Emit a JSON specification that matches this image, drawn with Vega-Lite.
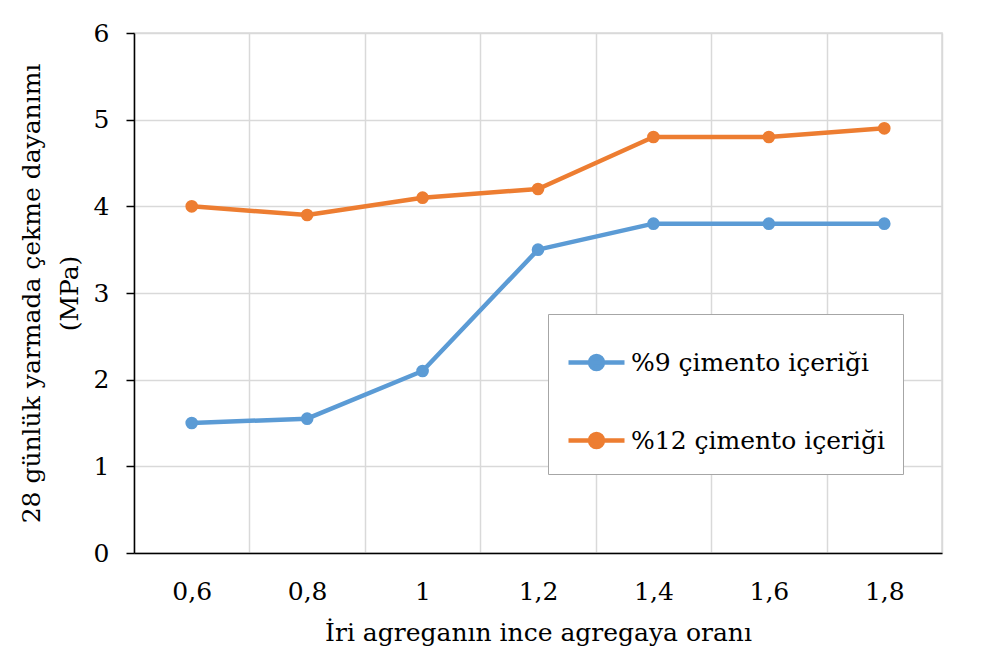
{
  "$schema": "https://vega.github.io/schema/vega-lite/v6.json",
  "autosize": "none",
  "width": 808,
  "height": 520,
  "padding": {"left": 134, "top": 33, "right": 42, "bottom": 119},
  "background": "white",
  "config": {
    "font": "DejaVu Serif",
    "view": {"stroke": "#d9d9d9", "strokeWidth": 1.5}
  },
  "data": {
    "values": [
      {"oran": "0,6", "seri": "%9 çimento içeriği", "dayanim": 1.5},
      {"oran": "0,8", "seri": "%9 çimento içeriği", "dayanim": 1.55},
      {"oran": "1", "seri": "%9 çimento içeriği", "dayanim": 2.1},
      {"oran": "1,2", "seri": "%9 çimento içeriği", "dayanim": 3.5},
      {"oran": "1,4", "seri": "%9 çimento içeriği", "dayanim": 3.8},
      {"oran": "1,6", "seri": "%9 çimento içeriği", "dayanim": 3.8},
      {"oran": "1,8", "seri": "%9 çimento içeriği", "dayanim": 3.8},
      {"oran": "0,6", "seri": "%12 çimento içeriği", "dayanim": 4.0},
      {"oran": "0,8", "seri": "%12 çimento içeriği", "dayanim": 3.9},
      {"oran": "1", "seri": "%12 çimento içeriği", "dayanim": 4.1},
      {"oran": "1,2", "seri": "%12 çimento içeriği", "dayanim": 4.2},
      {"oran": "1,4", "seri": "%12 çimento içeriği", "dayanim": 4.8},
      {"oran": "1,6", "seri": "%12 çimento içeriği", "dayanim": 4.8},
      {"oran": "1,8", "seri": "%12 çimento içeriği", "dayanim": 4.9}
    ]
  },
  "mark": {
    "type": "line",
    "strokeWidth": 4.5,
    "strokeJoin": "round",
    "strokeCap": "round",
    "point": {"filled": true, "size": 160, "opacity": 1}
  },
  "encoding": {
    "x": {
      "field": "oran",
      "type": "ordinal",
      "sort": null,
      "bandPosition": 0.5,
      "scale": {"type": "band", "paddingInner": 0, "paddingOuter": 0},
      "axis": {
        "title": "İri agreganın ince agregaya oranı",
        "titleFontSize": 25,
        "titleFontWeight": "normal",
        "titleColor": "black",
        "titlePadding": 16,
        "labelFontSize": 25,
        "labelColor": "black",
        "labelAngle": 0,
        "labelPadding": 26,
        "ticks": false,
        "tickBand": "extent",
        "grid": true,
        "gridColor": "#d9d9d9",
        "gridWidth": 1.5,
        "domainColor": "black",
        "domainWidth": 1.5
      }
    },
    "y": {
      "field": "dayanim",
      "type": "quantitative",
      "scale": {"domain": [0, 6], "nice": false},
      "axis": {
        "title": ["28 günlük yarmada çekme dayanımı", "(MPa)"],
        "titleFontSize": 25,
        "titleFontWeight": "normal",
        "titleColor": "black",
        "titlePadding": 11,
        "titleLineHeight": 38,
        "labelFontSize": 25,
        "labelColor": "black",
        "labelPadding": 17,
        "values": [0, 1, 2, 3, 4, 5, 6],
        "tickSize": 8,
        "tickColor": "black",
        "tickWidth": 1.5,
        "grid": true,
        "gridColor": "#d9d9d9",
        "gridWidth": 1.5,
        "domainColor": "black",
        "domainWidth": 1.5
      }
    },
    "color": {
      "field": "seri",
      "type": "nominal",
      "sort": ["%9 çimento içeriği", "%12 çimento içeriği"],
      "scale": {"domain": ["%9 çimento içeriği", "%12 çimento içeriği"], "range": ["#5b9bd5", "#ed7d31"]},
      "legend": {
        "title": null,
        "orient": "none",
        "legendX": 414,
        "legendY": 281,
        "padding": 18,
        "strokeColor": "#a6a6a6",
        "fillColor": "white",
        "labelFontSize": 25,
        "labelColor": "black",
        "labelLimit": 400,
        "labelOffset": 4,
        "rowPadding": 32,
        "symbolType": "M -1 0 L 1 0 M 0.23 0 A 0.23 0.23 0 1 1 -0.23 0 A 0.23 0.23 0 1 1 0.23 0 Z",
        "symbolSize": 3136,
        "symbolStrokeWidth": 4.5,
        "symbolOpacity": 1
      }
    }
  }
}
